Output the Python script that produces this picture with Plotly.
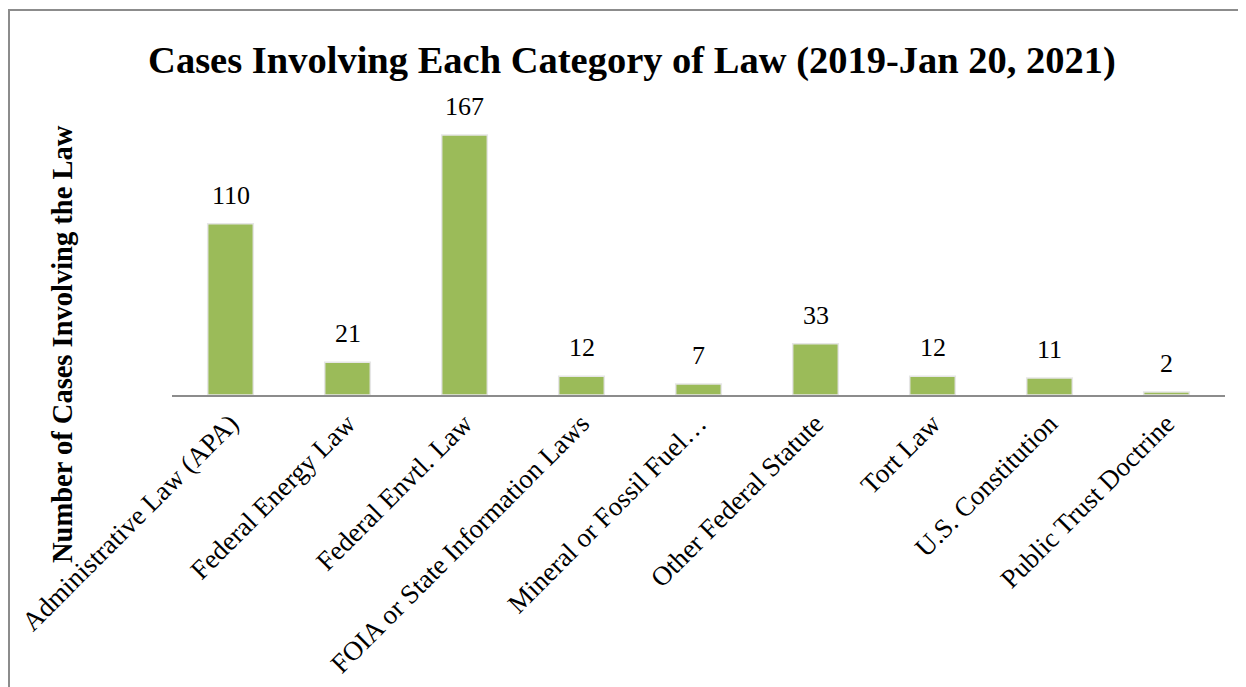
import plotly.graph_objects as go

categories = ["Administrative Law (APA)", "Federal Energy Law", "Federal Envtl. Law",
              "FOIA or State Information Laws", "Mineral or Fossil Fuel…",
              "Other Federal Statute", "Tort Law", "U.S. Constitution", "Public Trust Doctrine"]
values = [110, 21, 167, 12, 7, 33, 12, 11, 2]

FONT = "Palatino Linotype, Book Antiqua, Palatino, Liberation Serif, serif"
GREEN = "#9BBB59"

# figure is placed by the page with an 8px body margin
W, H = 1238, 679
L, R, T, B = 164, 21, 92, 292
PW, PH = W - L - R, H - T - B

fig = go.Figure()
fig.add_trace(go.Bar(
    x=categories, y=values,
    marker=dict(color=GREEN, line=dict(color="#E6E6E6", width=1.5)),
    hoverinfo="x+y",
))

for c, v in zip(categories, values):
    fig.add_annotation(x=c, y=v, text=str(v), showarrow=False, yanchor="bottom",
                       yshift=12, font=dict(family=FONT, size=26, color="black"))

fig.add_annotation(text="<b>Number of Cases Involving the Law</b>", textangle=-90,
                   xref="paper", yref="paper", x=(54 - L) / PW, y=(H - B - 336) / PH,
                   xanchor="center", yanchor="middle", showarrow=False,
                   font=dict(family=FONT, size=28.5, color="black"))

fig.add_shape(type="rect", xref="paper", yref="paper",
              x0=(1 - L) / PW, x1=1.05, y0=-1.1, y1=(H - B - 2) / PH,
              line=dict(color="#8C8C8C", width=2), fillcolor="rgba(0,0,0,0)")

fig.update_layout(
    width=W, height=H,
    margin=dict(l=L, r=R, t=T, b=B, autoexpand=False),
    paper_bgcolor="white", plot_bgcolor="white",
    bargap=0.61,
    showlegend=False,
    title=dict(text="<b>Cases Involving Each Category of Law (2019-Jan 20, 2021)</b>",
               x=624 / W, xanchor="center", y=1 - 52 / H, yanchor="middle",
               font=dict(family=FONT, size=38.5, color="black")),
    xaxis=dict(tickangle=-45, showline=True, linecolor="#8C8C8C", linewidth=2,
               ticks="", tickfont=dict(family=FONT, size=27, color="black"),
               showgrid=False, automargin=False),
    yaxis=dict(range=[0, 189.5], showticklabels=False, showgrid=False,
               zeroline=False, showline=False, automargin=False),
)

fig.write_html("out.html")
